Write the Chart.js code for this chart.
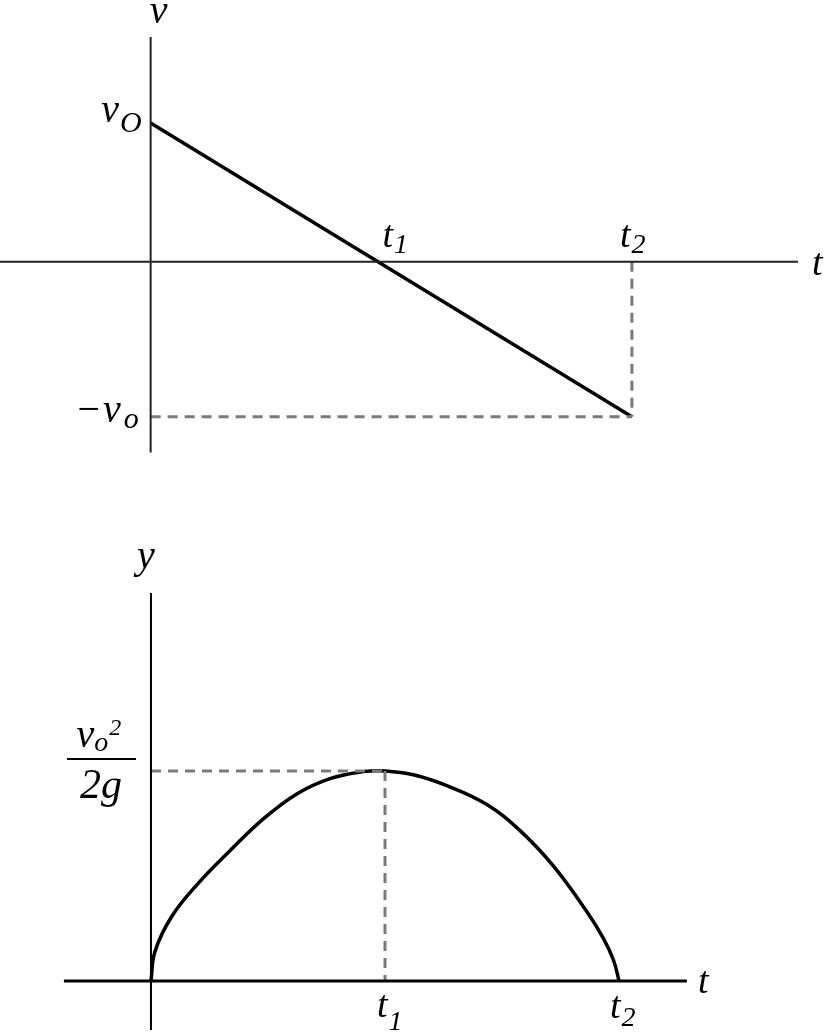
<!DOCTYPE html>
<html lang="en">
  <head>
    <meta charset="UTF-8" />
    <title>v-t and y-t graphs</title>
    <script src="https://cdn.jsdelivr.net/npm/chart.js@4.4.1/dist/chart.umd.min.js"></script>
    <style>
      html, body { margin: 0; padding: 0; background: #fff; }
      .plot { position: absolute; left: 0; }
      #topPlot { top: 0; }
      #bottomPlot { top: 500px; }
    </style>
  </head>
  <body>
    <div class="plot" id="topPlot"><canvas id="vChart" width="829" height="500"></canvas></div>
    <div class="plot" id="bottomPlot"><canvas id="yChart" width="829" height="533"></canvas></div>

    <script>
      // ---- top graph: velocity vs time ----
      const vTimes = [0, 2];
      const vValues = [0.895, -1];
      const vT1 = 0.947;
      const vT2 = 2;
      const vTAxis = [-0.626, 2.69];   // horizontal axis extent
      const vVAxis = [1.45, -1.23];    // vertical axis extent

      // ---- bottom graph: height vs time ----
      const yTimes = [0, 0.017, 0.088, 0.202, 0.33, 0.48, 0.623, 0.765, 0.907, 1.0,
                      1.121, 1.264, 1.435, 1.577, 1.719, 1.862, 1.933, 1.976, 2.0];
      const yValues = [0, 0.14, 0.306, 0.465, 0.612, 0.772, 0.891, 0.964, 0.997, 1.0,
                       0.982, 0.93, 0.84, 0.716, 0.548, 0.331, 0.203, 0.1, 0];
      const yT1 = 1;
      const yT2 = 2;
      const yPeak = 1;
      const yTAxis = [-0.372, 2.29];
      const yYAxis = [1.848, -0.233];

      const SERIF = '"Liberation Serif", "Times New Roman", "DejaVu Serif", serif';
      const GRAY = "#7a7a7a";

      function pts(xs, ys) {
        return xs.map((x, i) => ({ x: x, y: ys[i] }));
      }

      function seg(style) {
        return Object.assign({ showLine: true, pointRadius: 0, fill: false, tension: 0 }, style);
      }

      // draw a label made of pieces [text, size, dy, gap] from x, baseline y
      function pieces(ctx, list, x, y, align) {
        let total = 0;
        list.forEach((p) => {
          ctx.font = "italic " + p[1] + "px " + SERIF;
          total += ctx.measureText(p[0]).width + (p[3] || 0);
        });
        let cx = x;
        if (align === "right") cx = x - total;
        if (align === "center") cx = x - total / 2;
        list.forEach((p) => {
          ctx.font = "italic " + p[1] + "px " + SERIF;
          ctx.fillText(p[0], cx, y + p[2]);
          cx += ctx.measureText(p[0]).width + (p[3] || 0);
        });
      }

      const labelsTop = {
        id: "labelsTop",
        afterDraw(chart) {
          const ctx = chart.ctx;
          const sx = chart.scales.x, sy = chart.scales.y;
          const x0 = sx.getPixelForValue(0), y0 = sy.getPixelForValue(0);
          ctx.save();
          ctx.fillStyle = "#000";
          ctx.textBaseline = "alphabetic";
          ctx.textAlign = "left";
          pieces(ctx, [["v", 40, 0]], x0 + 8, sy.getPixelForValue(vVAxis[0]) - 14, "center");
          pieces(ctx, [["v", 40, 0, 1], ["O", 30, 10]], x0 - 9, sy.getPixelForValue(vValues[0]) - 1, "right");
          pieces(ctx, [["\u2212", 40, 0, 1], ["v", 40, 0, 3], ["o", 30, 6]], x0 - 12, sy.getPixelForValue(vValues[1]) + 5, "right");
          pieces(ctx, [["t", 38, 0, 1], ["1", 28, 6]], sx.getPixelForValue(vT1) + 4, y0 - 15, "left");
          pieces(ctx, [["t", 38, 0, 1], ["2", 28, 6]], sx.getPixelForValue(vT2) - 12, y0 - 15, "left");
          pieces(ctx, [["t", 38, 0]], sx.getPixelForValue(vTAxis[1]) + 14, y0 + 13, "left");
          ctx.restore();
        },
      };

      const labelsBottom = {
        id: "labelsBottom",
        afterDraw(chart) {
          const ctx = chart.ctx;
          const sx = chart.scales.x, sy = chart.scales.y;
          const x0 = sx.getPixelForValue(0), y0 = sy.getPixelForValue(0);
          const yp = sy.getPixelForValue(yPeak);
          ctx.save();
          ctx.fillStyle = "#000";
          ctx.textBaseline = "alphabetic";
          pieces(ctx, [["y", 40, 0]], x0 - 5, sy.getPixelForValue(yYAxis[0]) - 25, "center");
          // v_o^2 / 2g fraction
          const fx = x0 - 50;
          pieces(ctx, [["v", 40, 0, 0], ["o", 28, 4, 1], ["2", 24, -12]], fx - 2, yp - 24, "center");
          ctx.fillRect(fx - 34, yp - 13, 69, 2);
          pieces(ctx, [["2g", 42, 0]], fx, yp + 27, "center");
          pieces(ctx, [["t", 38, 0, 1], ["1", 28, 13]], sx.getPixelForValue(yT1) - 8, y0 + 36, "left");
          pieces(ctx, [["t", 38, 0, 1], ["2", 28, 8]], sx.getPixelForValue(yT2) - 9, y0 + 37, "left");
          pieces(ctx, [["t", 38, 0]], sx.getPixelForValue(yTAxis[1]) + 11, y0 + 12, "left");
          ctx.restore();
        },
      };

      function baseOptions(xmin, xmax, ymin, ymax) {
        return {
          responsive: false,
          animation: false,
          layout: { padding: 0 },
          plugins: { legend: { display: false }, tooltip: { enabled: false } },
          scales: {
            x: { type: "linear", display: false, min: xmin, max: xmax },
            y: { type: "linear", display: false, min: ymin, max: ymax },
          },
        };
      }

      function drawCharts() {
        new Chart(document.getElementById("vChart"), {
          type: "scatter",
          data: {
            datasets: [
              seg({ data: pts(vTAxis, [0, 0]), borderColor: "#222", borderWidth: 2 }),
              seg({ data: pts([0, 0], vVAxis), borderColor: "#222", borderWidth: 2 }),
              seg({ data: pts([0, vT2], [vValues[1], vValues[1]]), borderColor: GRAY, borderWidth: 3, borderDash: [10, 7] }),
              seg({ data: pts([vT2, vT2], [0, vValues[1]]), borderColor: GRAY, borderWidth: 3, borderDash: [10, 7] }),
              seg({ data: pts(vTimes, vValues), borderColor: "#000", borderWidth: 3.5 }),
            ],
          },
          options: baseOptions(-0.626, 2.819, -1.537, 1.688),
          plugins: [labelsTop],
        });

        new Chart(document.getElementById("yChart"), {
          type: "scatter",
          data: {
            datasets: [
              seg({ data: pts(yTAxis, [0, 0]), borderColor: "#000", borderWidth: 3 }),
              seg({ data: pts([0, 0], yYAxis), borderColor: "#000", borderWidth: 2 }),
              seg({ data: pts([0, yT1], [yPeak, yPeak]), borderColor: GRAY, borderWidth: 3, borderDash: [10, 7] }),
              seg({ data: pts([yT1, yT1], [yPeak, 0]), borderColor: GRAY, borderWidth: 3, borderDash: [10, 7] }),
              seg({ data: pts(yTimes, yValues), borderColor: "#000", borderWidth: 3.5, tension: 0.4 }),
            ],
          },
          options: baseOptions(-0.645, 2.897, -0.2476, 2.2905),
          plugins: [labelsBottom],
        });
      }

      // make sure the serif italic face is ready before drawing text on canvas
      Promise.all([
        document.fonts.load('italic 40px "Liberation Serif"'),
        document.fonts.load('italic 40px "Times New Roman"'),
      ]).then(drawCharts, drawCharts);
    </script>
  </body>
</html>
